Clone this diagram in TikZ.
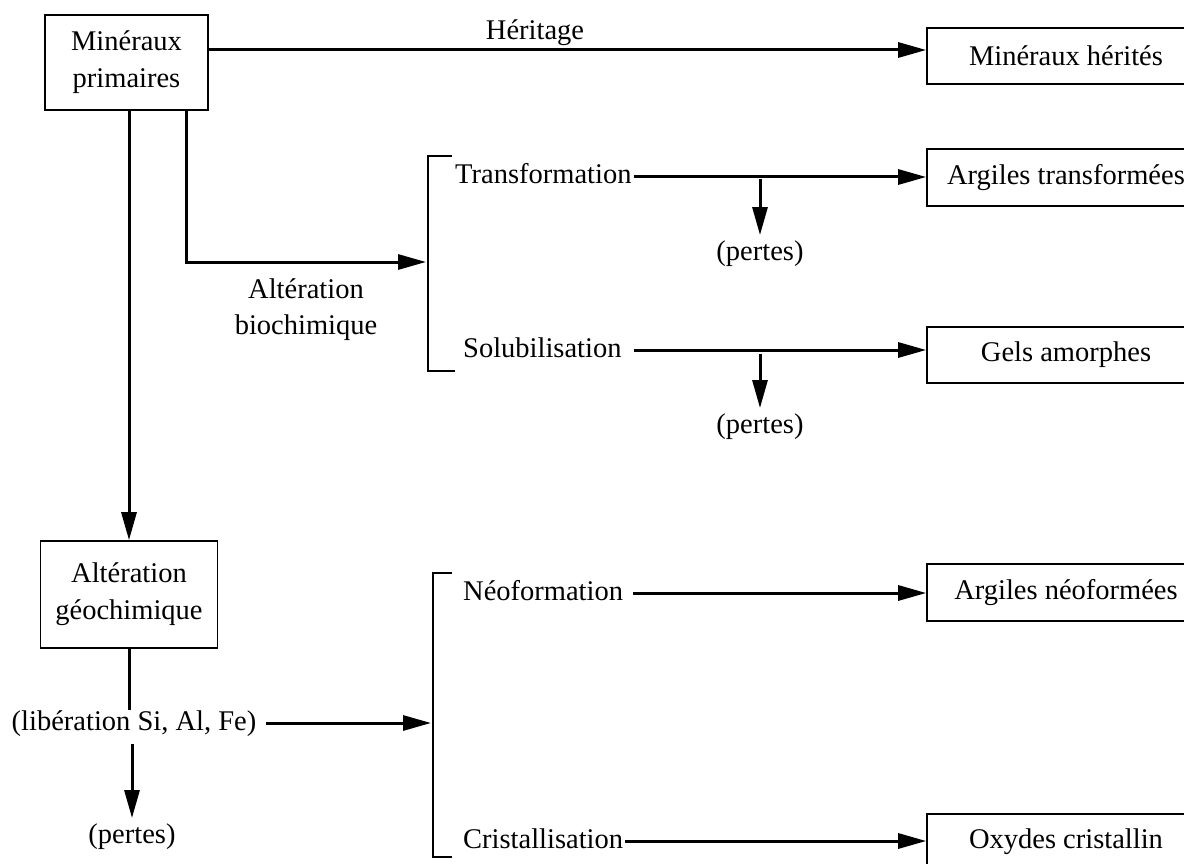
\documentclass[tikz,border=0pt]{standalone}
\usepackage{fontspec}
\setmainfont{Liberation Serif}
\newfontfamily\serifa{Liberation Serif}
\usetikzlibrary{arrows.meta}
\begin{document}
\begin{tikzpicture}[x=1pt,y=-1pt,
  lbl/.style={inner sep=0pt, font=\serifa\fontsize{28.5}{36}\selectfont},
  box/.style={draw, line width=1.6pt, inner sep=0pt, align=center, font=\serifa\fontsize{28.5}{37}\selectfont},
  rbox/.style={box, minimum width=278pt, minimum height=56pt},
  arr/.style={line width=3pt, -{Triangle[length=28pt,width=15pt]}},
  ln/.style={line width=3pt},
  brk/.style={line width=2.8pt}]
\useasboundingbox (0,0) rectangle (1184,864);
\clip (0,0) rectangle (1184,864);
\fill[white] (0,0) rectangle (1184,864);
% boxes
\node[box, minimum width=163pt, minimum height=95pt] (mp) at (126.5,62.5) {Minéraux\\primaires};
\node[rbox] (mh) at (1066,56) {Minéraux hérités};
\node[rbox, minimum height=57pt] (at) at (1066,177.5) {Argiles transformées};
\node[rbox] (ga) at (1066,355) {Gels amorphes};
\node[box, minimum width=177pt, minimum height=107pt] (ag) at (129,594.5) {Altération\\géochimique};
\node[rbox, minimum height=57pt] (an) at (1066,592.5) {Argiles néoformées};
\node[rbox] (oc) at (1066,842) {Oxydes cristallin};
% labels
\node[lbl, anchor=base] (her) at (535,40) {Héritage};
\node[lbl, anchor=base west] (tr) at (455,184) {Transformation};
\node[lbl, anchor=base west] (so) at (463,357) {Solubilisation};
\node[lbl, anchor=base] (p1) at (760,260) {(pertes)};
\node[lbl, anchor=base] (p2) at (760,433) {(pertes)};
\node[lbl, anchor=north, align=center] (ab) at (306,278) {Altération\\biochimique};
\node[lbl, anchor=base] (lib) at (134,730) {(libération Si, Al, Fe)};
\node[lbl, anchor=base] (p3) at (132,843) {(pertes)};
\node[lbl, anchor=base west] (neo) at (463,600) {Néoformation};
\node[lbl, anchor=base west] (cri) at (463,848) {Cristallisation};
% brackets
\draw[brk] (452,156) -- (428,156) -- (428,371) -- (455,371);
\draw[brk] (452,573) -- (433,573) -- (433,857) -- (452,857);
\coordinate (b1) at (426,262);
\coordinate (b2m) at (431,0);
% Héritage
\coordinate (h1) at (0,50);
\draw[arr] (mp.east |- h1) -- (mh.west |- h1);
% vertical to géochimique
\draw[arr] (mp.south -| ag.north) -- (ag.north);
% biochimique
\draw[arr] ([xshift=-22pt]mp.south east) |- (b1);
% Transformation
\coordinate (t1) at ([xshift=2pt,yshift=7pt]tr.base east);
\draw[arr] (t1) -- (t1 -| at.west);
\coordinate (t2) at (t1 -| p1.north);
\draw[arr] ([yshift=-2pt]t2) -- ([yshift=5pt]p1.north);
% Solubilisation
\coordinate (s1) at ([yshift=7pt]so.base east);
\draw[arr] ([xshift=12pt]s1) -- (s1 -| ga.west);
\coordinate (s2) at (s1 -| p2.north);
\draw[arr] ([yshift=-4pt]s2) -- ([yshift=5pt]p2.north);
% géochimique
\draw[ln] (ag.south) -- (ag.south |- lib.north);
\coordinate (l1) at ([xshift=10pt,yshift=7pt]lib.base east);
\draw[arr] (l1) -- (l1 -| b2m);
\coordinate (d3) at (lib.south -| p3.north);
\draw[arr] ([yshift=-8pt]d3) -- ([yshift=5pt]p3.north);
% Néoformation, Cristallisation
\coordinate (n1) at ([yshift=7pt]neo.base east);
\draw[arr] ([xshift=10pt]n1) -- (n1 -| an.west);
\coordinate (c1) at ([yshift=7pt]cri.base east);
\draw[arr] ([xshift=2pt]c1) -- (c1 -| oc.west);
\end{tikzpicture}
\end{document}
